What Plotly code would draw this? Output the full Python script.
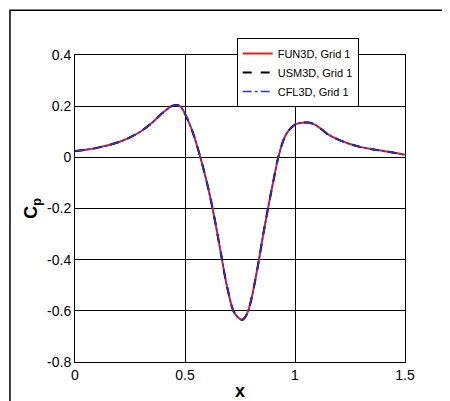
import plotly.graph_objects as go

x = [0.0, 0.05, 0.1, 0.15, 0.2, 0.25, 0.3, 0.35, 0.4, 0.44, 0.46, 0.48, 0.5, 0.53, 0.56, 0.6, 0.63, 0.66, 0.69, 0.72, 0.74, 0.76, 0.78, 0.8, 0.83, 0.86, 0.9, 0.93, 0.96, 1.0, 1.03, 1.06, 1.09, 1.12, 1.15, 1.2, 1.25, 1.3, 1.35, 1.4, 1.45, 1.5]
cp = [0.025, 0.03, 0.037, 0.047, 0.06, 0.078, 0.102, 0.135, 0.175, 0.2, 0.205, 0.198, 0.17, 0.11, 0.03, -0.1, -0.22, -0.36, -0.5, -0.6, -0.625, -0.635, -0.615, -0.56, -0.43, -0.28, -0.1, 0.02, 0.09, 0.128, 0.135, 0.136, 0.128, 0.11, 0.09, 0.068, 0.052, 0.04, 0.032, 0.025, 0.018, 0.01]

fig = go.Figure()
fig.add_trace(go.Scatter(x=x, y=cp, mode="lines", name="FUN3D, Grid 1", line=dict(color="#e02020", width=2, shape="spline")))
fig.add_trace(go.Scatter(x=x, y=cp, mode="lines", name="USM3D, Grid 1", line=dict(color="black", width=2, dash="dash", shape="spline")))
fig.add_trace(go.Scatter(x=x, y=cp, mode="lines", name="CFL3D, Grid 1", line=dict(color="#3030e0", width=1.5, dash="dashdot", shape="spline")))

ax = dict(showline=True, linecolor="black", linewidth=1, mirror=True, showgrid=True, gridcolor="black", gridwidth=0.6,
          zeroline=False, ticks="inside", tickcolor="black", tickfont=dict(family="Liberation Sans", size=14, color="black"))
fig.update_xaxes(**ax, range=[0, 1.5], tickvals=[0, 0.5, 1, 1.5], ticktext=["0", "0.5", "1", "1.5"],
                 title=dict(text="<b>x</b>", font=dict(family="Liberation Sans", size=18, color="black"), standoff=2))
fig.update_yaxes(**ax, range=[-0.8, 0.4],
                 tickvals=[-0.8, -0.6, -0.4, -0.2, 0, 0.2, 0.4], ticktext=["-0.8", "-0.6", "-0.4", "-0.2", "0", "0.2", "0.4"],
                 title=dict(text="<b>C<sub>p</sub></b>", font=dict(family="Liberation Sans", size=18, color="black"), standoff=4))
fig.update_layout(width=450, height=401, plot_bgcolor="white", paper_bgcolor="white",
                  margin=dict(l=67, r=53, t=47, b=47, autoexpand=False),
                  legend=dict(x=0.49, y=1.055, xanchor="left", yanchor="top", bgcolor="white", bordercolor="black", borderwidth=1,
                              font=dict(family="Liberation Sans", size=11, color="black")),
                  shapes=[dict(type="rect", xref="paper", yref="paper", x0=-0.197, x1=1.155, y0=-0.146, y1=1.146,
                               line=dict(color="black", width=1.5))])
fig.write_html("out.html")
